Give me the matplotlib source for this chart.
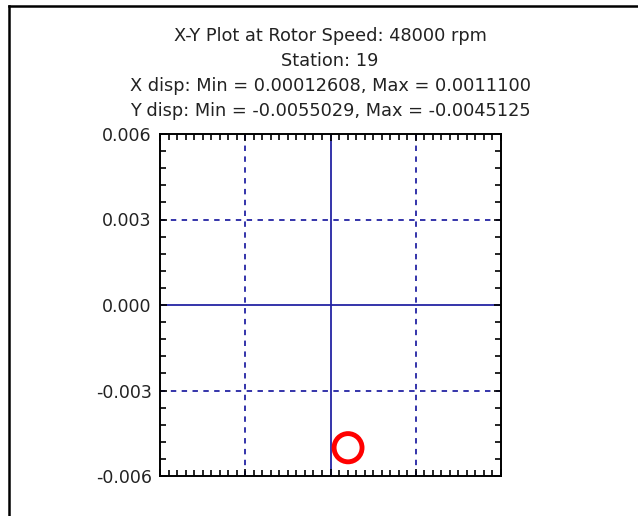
import matplotlib
matplotlib.use("Agg")
import matplotlib.pyplot as plt
from matplotlib.patches import Ellipse
from matplotlib.lines import Line2D
import numpy as np

plt.rcParams['font.family'] = ['DejaVu Sans']

rpm = 48000
station = 19
x_min, x_max = 0.00012608, 0.0011100
y_min, y_max = -0.0055029, -0.0045125
lim = 0.006
ytick_vals = [-0.006, -0.003, 0.0, 0.003, 0.006]
grid_vals = [-0.003, 0.003]
blue = '#2424a4'

fig = plt.figure(figsize=(6.38, 5.16), dpi=100)
ax = fig.add_axes([160/638, 1 - 476/516, 341/638, 342/516])

ax.set_xlim(-lim, lim)
ax.set_ylim(-lim, lim)

# grid: solid axes through zero, dashed at +-0.003
ax.axvline(0, color=blue, lw=1.3, zorder=1)
ax.axhline(0, color=blue, lw=1.3, zorder=1)
for g in grid_vals:
    ax.axvline(g, color=blue, lw=1.3, ls=(0, (3, 3)), zorder=1)
    ax.axhline(g, color=blue, lw=1.3, ls=(0, (3, 3)), zorder=1)

# orbit from the reported min / max displacements
orbit = Ellipse(((x_min + x_max) / 2, (y_min + y_max) / 2),
                x_max - x_min, y_max - y_min,
                fill=False, edgecolor='red', lw=3.5, zorder=3)
ax.add_patch(orbit)

ax.set_yticks(ytick_vals)
ax.set_yticklabels(['%.3f' % v for v in ytick_vals])
ax.set_xticks(np.arange(-0.006, 0.00601, 0.003))
ax.set_xticklabels([])
ax.set_xticks(np.arange(-0.006, 0.00601, 0.0003), minor=True)
ax.set_yticks(np.arange(-0.006, 0.00601, 0.0006), minor=True)
ax.tick_params(which='both', direction='in', top=True, right=True,
               width=1.2, color='black')
ax.tick_params(which='major', length=5, labelsize=12.5, pad=6, labelcolor='#222222')
ax.tick_params(which='minor', length=4)
for s in ax.spines.values():
    s.set_linewidth(1.4)

title_lines = [
    "X-Y Plot at Rotor Speed: %d rpm" % rpm,
    "Station: %d" % station,
    "X disp: Min = %.8f, Max = %.7f" % (x_min, x_max),
    "Y disp: Min = %.7f, Max = %.7f" % (y_min, y_max),
]
for i, line in enumerate(title_lines):
    fig.text(330/638, 1 - (36 + 25 * i)/516, line, ha='center', va='center',
             fontsize=12.8, color='#222222')

# frame along top and left edges
fig.add_artist(Line2D([9/638, 9/638], [0, 1 - 6/516], transform=fig.transFigure,
                      color='black', lw=1.8))
fig.add_artist(Line2D([9/638, 1], [1 - 6/516, 1 - 6/516], transform=fig.transFigure,
                      color='black', lw=1.8))

fig.savefig('out.png', dpi=100)
